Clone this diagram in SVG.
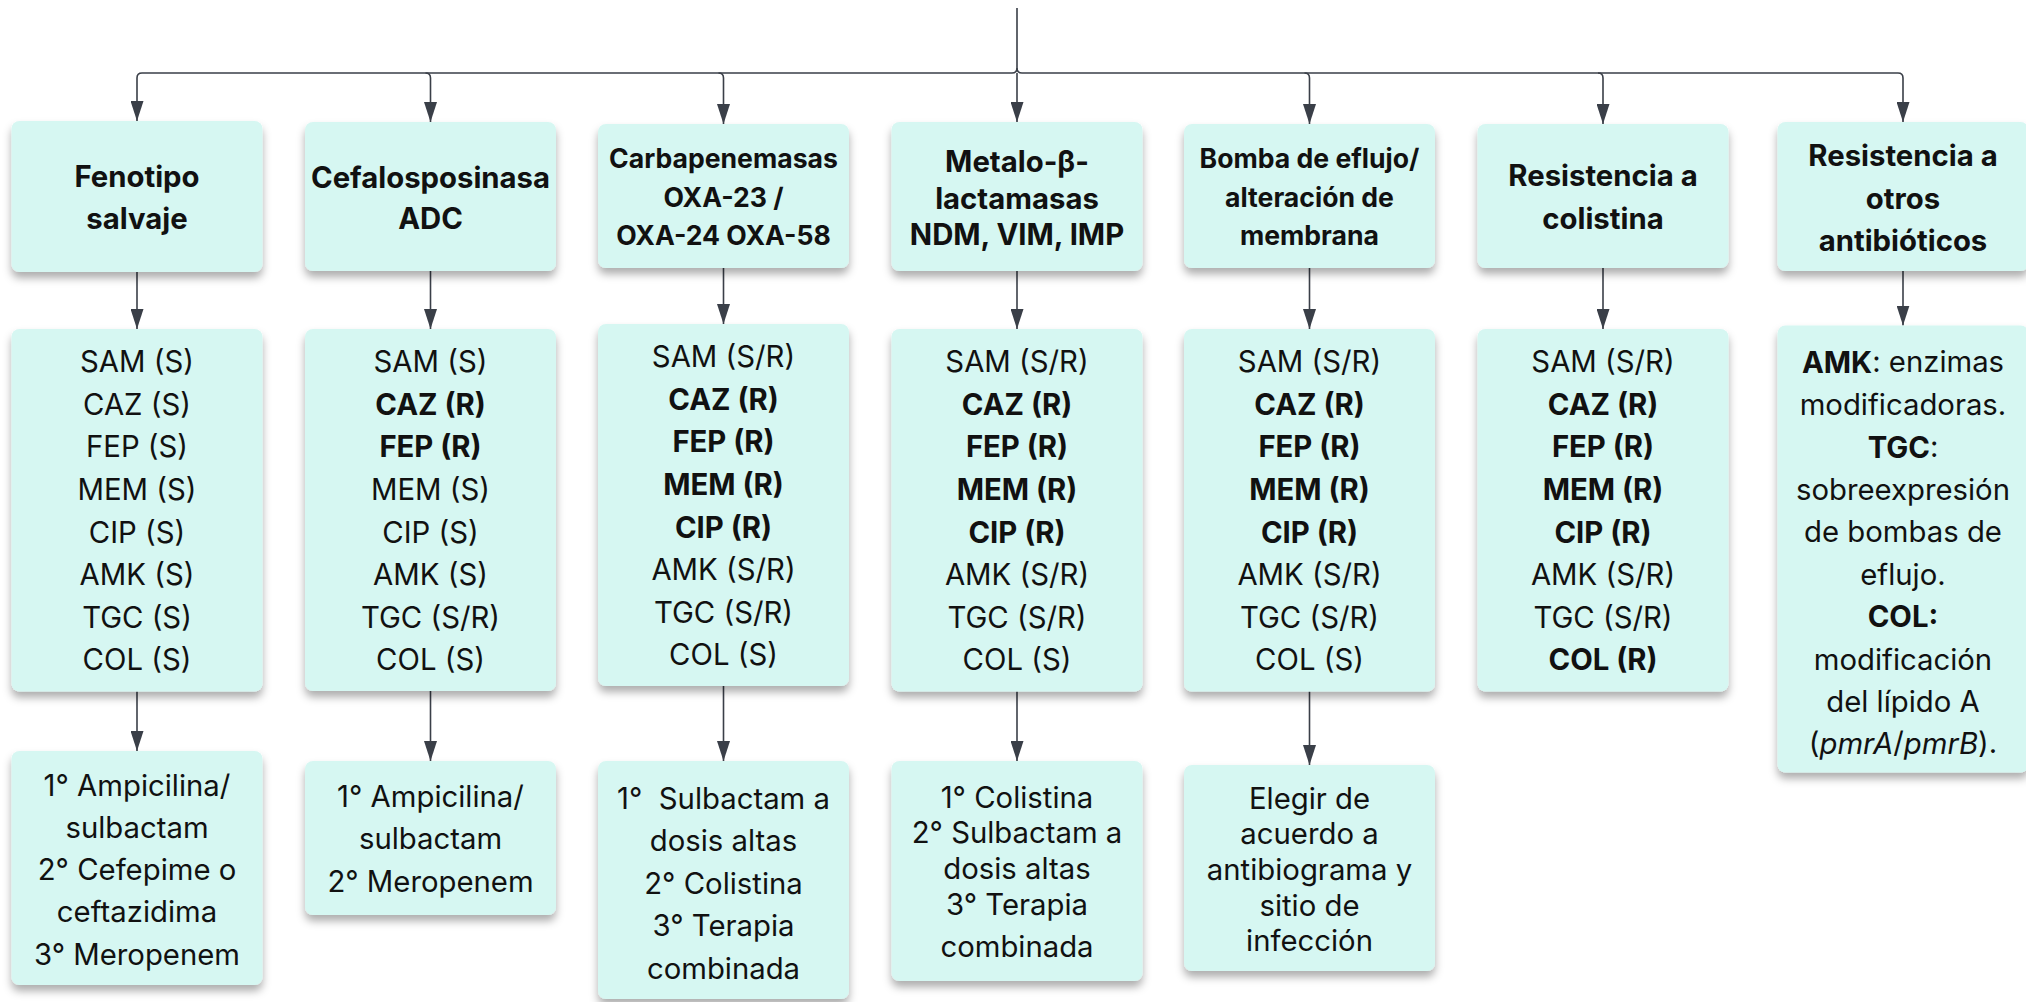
<svg xmlns="http://www.w3.org/2000/svg" width="2026" height="1002" viewBox="0 0 2026 1002">
  <defs>
    <filter id="shadow" x="-10%" y="-10%" width="120%" height="130%">
      <feDropShadow dx="0" dy="6" stdDeviation="4" flood-color="#000" flood-opacity="0.32"/>
    </filter>
    <marker id="arrow" viewBox="0 0 20 13" refX="20" refY="6.5" markerWidth="20" markerHeight="13" orient="auto" markerUnits="userSpaceOnUse">
      <path d="M0,0 L20,6.5 L0,13 Z" fill="#3a3f48"/>
    </marker>
    <style>
      .box { fill: #d6f7f2; filter: url(#shadow); }
      .t { font-family: Inter, "Liberation Sans", sans-serif; font-size: 29.3px; fill: #111; text-anchor: middle; dominant-baseline: central; }
      .h { font-weight: 700; }
      .hs { font-weight: 700; font-size: 26.6px; }
      .b { font-weight: 700; }
      .link { fill: none; stroke: #3a3f48; stroke-width: 1.6; }
      .arr { marker-end: url(#arrow); }
    </style>
  </defs>

  <!-- connectors -->
  <g id="connectors">
    <!-- trunk and top bus -->
    <path class="link" d="M1017,8 V68 Q1017,73 1012,73 H142 Q137,73 137,78 V121" marker-end="url(#arrow)"/>
    <path class="link" d="M1017,68 Q1017,73 1022,73 H1898 Q1903,73 1903,78 V122" marker-end="url(#arrow)"/>
    <path class="link" d="M425.5,73 Q430.5,73 430.5,78 V122" marker-end="url(#arrow)"/>
    <path class="link" d="M718.5,73 Q723.5,73 723.5,78 V124" marker-end="url(#arrow)"/>
    <path class="link" d="M1017,73 V122" marker-end="url(#arrow)"/>
    <path class="link" d="M1304.5,73 Q1309.5,73 1309.5,78 V124" marker-end="url(#arrow)"/>
    <path class="link" d="M1598,73 Q1603,73 1603,78 V124" marker-end="url(#arrow)"/>
    <!-- header to profile -->
    <path class="link arr" d="M137,272 V329"/>
    <path class="link arr" d="M430.5,271 V329"/>
    <path class="link arr" d="M723.5,268 V324"/>
    <path class="link arr" d="M1017,271 V329"/>
    <path class="link arr" d="M1309.5,268 V329"/>
    <path class="link arr" d="M1603,268 V329"/>
    <path class="link arr" d="M1903,271 V325.5"/>
    <!-- profile to treatment -->
    <path class="link arr" d="M137,691.5 V751"/>
    <path class="link arr" d="M430.5,691 V761"/>
    <path class="link arr" d="M723.5,686 V761"/>
    <path class="link arr" d="M1017,691.5 V761"/>
    <path class="link arr" d="M1309.5,691.5 V765"/>
  </g>

  <!-- column 1 -->
  <g id="h1">
    <rect class="box" x="11.5" y="121" width="251" height="151" rx="8"/>
    <text class="t h" x="137" y="176">Fenotipo</text>
    <text class="t h" x="137" y="218">salvaje</text>
  </g>
  <g id="p1">
    <rect class="box" x="11.5" y="329" width="251" height="362.5" rx="8"/>
    <text class="t" x="137" y="361.7">SAM (S)</text>
    <text class="t" x="137" y="404.3">CAZ (S)</text>
    <text class="t" x="137" y="446.9">FEP (S)</text>
    <text class="t" x="137" y="489.5">MEM (S)</text>
    <text class="t" x="137" y="532.1">CIP (S)</text>
    <text class="t" x="137" y="574.7">AMK (S)</text>
    <text class="t" x="137" y="617.3">TGC (S)</text>
    <text class="t" x="137" y="659.9">COL (S)</text>
  </g>
  <g id="r1">
    <rect class="box" x="11.5" y="751" width="251" height="234" rx="8"/>
    <text class="t" x="137" y="785">1° Ampicilina/</text>
    <text class="t" x="137" y="827">sulbactam</text>
    <text class="t" x="137" y="869.5">2° Cefepime o</text>
    <text class="t" x="137" y="911.7">ceftazidima</text>
    <text class="t" x="137" y="954">3° Meropenem</text>
  </g>

  <!-- column 2 -->
  <g id="h2">
    <rect class="box" x="305" y="122" width="251" height="149" rx="8"/>
    <text class="t h" x="430.5" y="177">Cefalosposinasa</text>
    <text class="t h" x="430.5" y="218">ADC</text>
  </g>
  <g id="p2">
    <rect class="box" x="305" y="329" width="251" height="362" rx="8"/>
    <text class="t" x="430.5" y="361.7">SAM (S)</text>
    <text class="t b" x="430.5" y="404.3">CAZ (R)</text>
    <text class="t b" x="430.5" y="446.9">FEP (R)</text>
    <text class="t" x="430.5" y="489.5">MEM (S)</text>
    <text class="t" x="430.5" y="532.1">CIP (S)</text>
    <text class="t" x="430.5" y="574.7">AMK (S)</text>
    <text class="t" x="430.5" y="617.3">TGC (S/R)</text>
    <text class="t" x="430.5" y="659.9">COL (S)</text>
  </g>
  <g id="r2">
    <rect class="box" x="305" y="761" width="251" height="154" rx="8"/>
    <text class="t" x="430.5" y="796.7">1° Ampicilina/</text>
    <text class="t" x="430.5" y="838.5">sulbactam</text>
    <text class="t" x="430.5" y="881.5">2° Meropenem</text>
  </g>

  <!-- column 3 -->
  <g id="h3">
    <rect class="box" x="598" y="124" width="251" height="144" rx="8"/>
    <text class="t hs" x="723.5" y="158.3">Carbapenemasas</text>
    <text class="t hs" x="723.5" y="196.7">OXA-23 /</text>
    <text class="t hs" x="723.5" y="235">OXA-24 OXA-58</text>
  </g>
  <g id="p3">
    <rect class="box" x="598" y="324" width="251" height="362" rx="8"/>
    <text class="t" x="723.5" y="356.7">SAM (S/R)</text>
    <text class="t b" x="723.5" y="399.3">CAZ (R)</text>
    <text class="t b" x="723.5" y="441.9">FEP (R)</text>
    <text class="t b" x="723.5" y="484.5">MEM (R)</text>
    <text class="t b" x="723.5" y="527.1">CIP (R)</text>
    <text class="t" x="723.5" y="569.7">AMK (S/R)</text>
    <text class="t" x="723.5" y="612.3">TGC (S/R)</text>
    <text class="t" x="723.5" y="654.9">COL (S)</text>
  </g>
  <g id="r3">
    <rect class="box" x="598" y="761" width="251" height="238" rx="8"/>
    <text class="t" x="723.5" y="798" xml:space="preserve">1°  Sulbactam a</text>
    <text class="t" x="723.5" y="840.5">dosis altas</text>
    <text class="t" x="723.5" y="883">2° Colistina</text>
    <text class="t" x="723.5" y="925.5">3° Terapia</text>
    <text class="t" x="723.5" y="968">combinada</text>
  </g>

  <!-- column 4 -->
  <g id="h4">
    <rect class="box" x="891.5" y="122" width="251" height="149" rx="8"/>
    <text class="t h" x="1017" y="161.7">Metalo-β-</text>
    <text class="t h" x="1017" y="198">lactamasas</text>
    <text class="t h" x="1017" y="234">NDM, VIM, IMP</text>
  </g>
  <g id="p4">
    <rect class="box" x="891.5" y="329" width="251" height="362.5" rx="8"/>
    <text class="t" x="1017" y="361.7">SAM (S/R)</text>
    <text class="t b" x="1017" y="404.3">CAZ (R)</text>
    <text class="t b" x="1017" y="446.9">FEP (R)</text>
    <text class="t b" x="1017" y="489.5">MEM (R)</text>
    <text class="t b" x="1017" y="532.1">CIP (R)</text>
    <text class="t" x="1017" y="574.7">AMK (S/R)</text>
    <text class="t" x="1017" y="617.3">TGC (S/R)</text>
    <text class="t" x="1017" y="659.9">COL (S)</text>
  </g>
  <g id="r4">
    <rect class="box" x="891.5" y="761" width="251" height="220" rx="8"/>
    <text class="t" x="1017" y="797">1° Colistina</text>
    <text class="t" x="1017" y="832.7">2° Sulbactam a</text>
    <text class="t" x="1017" y="868.3">dosis altas</text>
    <text class="t" x="1017" y="904">3° Terapia</text>
    <text class="t" x="1017" y="946.7">combinada</text>
  </g>

  <!-- column 5 -->
  <g id="h5">
    <rect class="box" x="1184" y="124" width="251" height="144" rx="8"/>
    <text class="t hs" x="1309.5" y="158.3">Bomba de eflujo/</text>
    <text class="t hs" x="1309.5" y="196.7">alteración de</text>
    <text class="t hs" x="1309.5" y="235">membrana</text>
  </g>
  <g id="p5">
    <rect class="box" x="1184" y="329" width="251" height="362.5" rx="8"/>
    <text class="t" x="1309.5" y="361.7">SAM (S/R)</text>
    <text class="t b" x="1309.5" y="404.3">CAZ (R)</text>
    <text class="t b" x="1309.5" y="446.9">FEP (R)</text>
    <text class="t b" x="1309.5" y="489.5">MEM (R)</text>
    <text class="t b" x="1309.5" y="532.1">CIP (R)</text>
    <text class="t" x="1309.5" y="574.7">AMK (S/R)</text>
    <text class="t" x="1309.5" y="617.3">TGC (S/R)</text>
    <text class="t" x="1309.5" y="659.9">COL (S)</text>
  </g>
  <g id="r5">
    <rect class="box" x="1184" y="765" width="251" height="206" rx="8"/>
    <text class="t" x="1309.5" y="798">Elegir de</text>
    <text class="t" x="1309.5" y="833.5">acuerdo a</text>
    <text class="t" x="1309.5" y="869.5">antibiograma y</text>
    <text class="t" x="1309.5" y="905">sitio de</text>
    <text class="t" x="1309.5" y="940.5">infección</text>
  </g>

  <!-- column 6 -->
  <g id="h6">
    <rect class="box" x="1477.5" y="124" width="251" height="144" rx="8"/>
    <text class="t h" x="1603" y="175">Resistencia a</text>
    <text class="t h" x="1603" y="218">colistina</text>
  </g>
  <g id="p6">
    <rect class="box" x="1477.5" y="329" width="251" height="362.5" rx="8"/>
    <text class="t" x="1603" y="361.7">SAM (S/R)</text>
    <text class="t b" x="1603" y="404.3">CAZ (R)</text>
    <text class="t b" x="1603" y="446.9">FEP (R)</text>
    <text class="t b" x="1603" y="489.5">MEM (R)</text>
    <text class="t b" x="1603" y="532.1">CIP (R)</text>
    <text class="t" x="1603" y="574.7">AMK (S/R)</text>
    <text class="t" x="1603" y="617.3">TGC (S/R)</text>
    <text class="t b" x="1603" y="659.9">COL (R)</text>
  </g>

  <!-- column 7 -->
  <g id="h7">
    <rect class="box" x="1777.5" y="122" width="251" height="149" rx="8"/>
    <text class="t h" x="1903" y="155">Resistencia a</text>
    <text class="t h" x="1903" y="198">otros</text>
    <text class="t h" x="1903" y="240">antibióticos</text>
  </g>
  <g id="p7">
    <rect class="box" x="1777.5" y="325.5" width="251" height="447" rx="8"/>
    <text class="t" x="1903" y="361.7"><tspan font-weight="700">AMK</tspan>: enzimas</text>
    <text class="t" x="1903" y="404.2">modificadoras.</text>
    <text class="t" x="1903" y="446.7"><tspan font-weight="700">TGC</tspan>:</text>
    <text class="t" x="1903" y="489.2">sobreexpresión</text>
    <text class="t" x="1903" y="531.7">de bombas de</text>
    <text class="t" x="1903" y="574.2">eflujo.</text>
    <text class="t b" x="1903" y="616.7">COL:</text>
    <text class="t" x="1903" y="659.2">modificación</text>
    <text class="t" x="1903" y="701.7">del lípido A</text>
    <text class="t" x="1903" y="742.5">(<tspan font-style="italic">pmrA</tspan>/<tspan font-style="italic">pmrB</tspan>).</text>
  </g>
</svg>
